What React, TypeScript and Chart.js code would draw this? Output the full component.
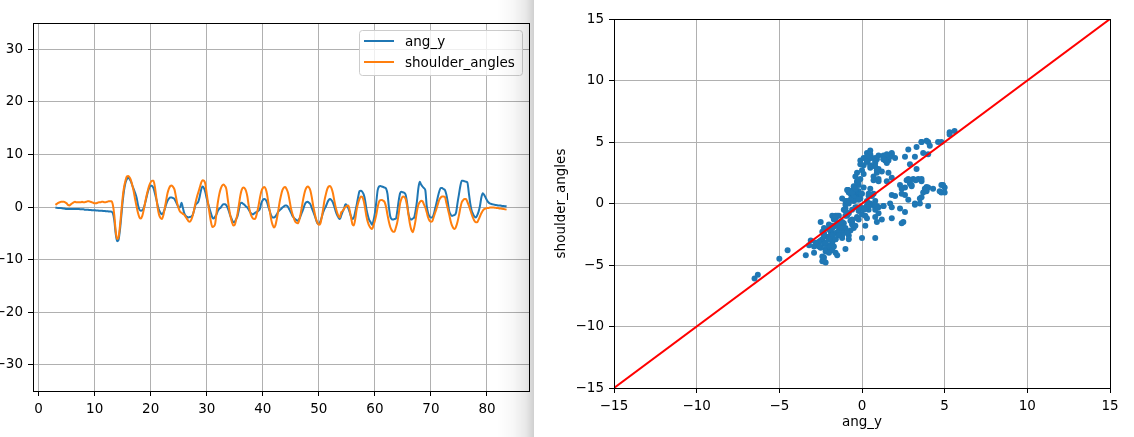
import React, { useEffect, useRef } from "react";
import { Chart, registerables } from "chart.js";

Chart.register(...registerables);

// ---- data (sampled every 0.25 s starting at t = 3 s) ----
const SAMPLE_START = 3;
const SAMPLE_STEP = 0.25;

const ANG_Y = [
  -0.1, -0.15, -0.2, -0.2,
  -0.2, -0.25, -0.3, -0.35,
  -0.4, -0.4, -0.4, -0.4,
  -0.4, -0.4, -0.4, -0.4,
  -0.4, -0.4, -0.45, -0.45,
  -0.45, -0.5, -0.5, -0.5,
  -0.55, -0.55, -0.6, -0.6,
  -0.6, -0.65, -0.65, -0.7,
  -0.7, -0.7, -0.75, -0.75,
  -0.8, -0.8, -0.85, -0.85,
  -0.9, -1.2, -2.5, -5.0,
  -6.5, -6.3, -4.5, -1.8,
  1.0, 3.2, 4.6, 5.3,
  5.6, 5.3, 4.8, 4.0,
  3.3, 2.6, 1.7, 0.3,
  -0.5, -0.7, -0.6, -0.2,
  0.7, 1.8, 2.9, 3.7,
  4.1, 4.0, 3.6, 2.6,
  1.5, 0.3, -0.6, -1.1,
  -1.4, -1.1, -0.4, 0.5,
  1.2, 1.6, 1.8, 1.8,
  1.7, 1.5, 1.0, 0.4,
  -0.1, 0.0, 0.8, -0.2,
  -1.2, -1.7, -1.9, -2.0,
  -1.9, -1.8, -1.5, -0.6,
  0.4, 0.7, 1.0, 2.0,
  3.3, 3.9, 3.6, 2.8,
  1.6, 0.6, -0.3, -1.2,
  -2.0, -2.2, -1.8, -1.4,
  -0.7, -0.3, -0.1, 0.3,
  0.5, 0.5, 0.3, -0.2,
  -1.0, -1.8, -2.4, -2.9,
  -2.8, -2.3, -1.7, -0.5,
  0.7, 0.8, 0.6, 0.4,
  0.1, -0.1, -0.5, -1.0,
  -1.3, -1.4, -1.2, -1.0,
  -0.9, -0.7, -0.3, 0.8,
  1.3, 1.5, 1.4, 0.9,
  0.0, -0.8, -1.6, -2.0,
  -2.0, -1.8, -1.4, -0.9,
  -0.6, -0.4, -0.1, 0.1,
  0.3, 0.3, 0.0, -0.5,
  -1.0, -1.6, -2.0, -2.3,
  -2.5, -2.6, -2.3, -1.7,
  -1.0, -0.3, 0.5, 0.9,
  1.0, 0.8, 0.5, -0.2,
  -0.9, -1.6, -2.4, -3.1,
  -3.2, -2.8, -2.0, -1.1,
  -0.4, 0.1, 0.8, 1.3,
  1.5, 1.3, 0.9, 0.1,
  -0.8, -1.5, -2.0, -2.3,
  -1.6, -0.9, -0.3, 0.5,
  0.3, -0.2, -1.0, -1.8,
  -2.3, -2.0, -0.9, 0.4,
  1.8, 3.0, 3.1, 2.9,
  2.4, 1.3, -0.4, -1.6,
  -2.5, -2.9, -3.4, -2.6,
  -1.2, 0.9, 3.2, 3.9,
  4.0, 3.9, 3.8, 3.7,
  3.5, 2.5, 0.0, -1.8,
  -2.3, -2.4, -2.3, -2.2,
  -0.8, 1.2, 2.6, 2.9,
  2.8, 2.7, 2.3, 0.8,
  -1.3, -2.2, -2.4, -2.2,
  -2.0, -0.8, 1.0, 3.5,
  4.8, 4.3, 3.9, 3.6,
  3.2, 0.2, -1.2, -1.8,
  -2.0, -2.0, -1.4, -0.3,
  0.8, 2.0, 3.0, 3.6,
  3.6, 3.4, 3.25, 2.4,
  1.0, -0.7, -1.4, -1.7,
  -1.6, -1.5, -1.0, 0.8,
  2.4, 4.0, 5.0, 5.0,
  4.9, 4.8, 4.7, 2.8,
  0.8, -0.6, -1.3, -1.8,
  -2.0, -1.6, -0.9, 0.2,
  1.8, 2.6, 2.3, 1.8,
  1.3, 0.9, 0.7, 0.6,
  0.5, 0.45, 0.4, 0.35,
  0.3, 0.3, 0.25, 0.2,
  0.2, 0.15, 0.1,
];

const SHOULDER_ANGLES = [
  0.4, 0.6, 0.8, 0.9,
  1.0, 1.0, 1.0, 0.9,
  0.7, 0.4, 0.3, 0.5,
  0.7, 0.9, 1.0, 0.9,
  0.9, 0.9, 0.9, 1.0,
  0.9, 0.9, 1.0, 1.1,
  1.1, 1.0, 0.9, 0.8,
  0.7, 0.7, 0.8, 0.9,
  0.9, 1.0, 1.0, 0.9,
  0.9, 1.0, 1.1, 1.1,
  1.1, 0.4, -1.5, -4.5,
  -6.1, -5.8, -3.8, -1.0,
  1.8, 3.8, 5.0, 5.8,
  5.9, 5.6, 5.0, 4.0,
  2.8, 1.3, 0.0, -1.2,
  -2.0, -2.2, -1.7, -0.6,
  0.8, 2.1, 3.2, 4.1,
  4.7, 5.0, 5.0, 3.8,
  1.8, -0.2, -1.5, -2.1,
  -2.3, -1.6, -0.3, 1.2,
  2.6, 3.5, 4.0, 4.1,
  3.8, 3.3, 2.0, 0.6,
  -0.3, -0.9, -1.1, -1.3,
  -1.5, -1.9, -2.3, -2.7,
  -2.8, -2.4, -1.6, -0.5,
  0.8, 1.9, 2.8, 3.7,
  4.6, 5.1, 5.0, 4.4,
  2.5, 0.6, -1.2, -2.8,
  -3.8, -3.7, -3.2, -1.0,
  1.0, 2.5, 3.5, 4.1,
  4.3, 4.0, 3.4, 1.5,
  -0.4, -1.8, -2.9, -3.5,
  -3.4, -2.4, -1.2, 0.5,
  2.2, 3.3, 3.7, 3.6,
  3.1, 2.0, 0.2, -1.0,
  -1.8, -2.2, -2.3, -2.0,
  -1.0, 0.3, 1.8, 3.0,
  3.6, 3.8, 3.5, 2.5,
  0.8, -0.8, -2.4, -3.4,
  -3.9, -3.5, -2.3, -0.8,
  0.9, 2.2, 3.2, 3.7,
  3.8, 3.4, 2.7, 1.4,
  -0.1, -1.2, -2.0, -2.7,
  -3.0, -3.1, -2.5, -1.3,
  0.2, 1.7, 2.9, 3.6,
  3.9, 3.7, 3.1, 1.8,
  0.2, -1.1, -2.3, -3.0,
  -3.4, -3.2, -2.1, -0.5,
  1.2, 2.4, 3.4, 3.9,
  4.0, 3.6, 2.7, 1.3,
  0.0, -1.0, -1.7, -2.0,
  -1.0, -0.8, -0.3, 0.0,
  0.2, 0.3, -0.6, -2.0,
  -3.3, -3.5, -2.3, -0.5,
  0.7, 1.5, 2.0, 1.9,
  1.2, -0.2, -1.8, -2.9,
  -3.6, -4.0, -4.2, -3.5,
  -2.6, -1.5, 0.0, 1.0,
  1.3, 1.35, 1.2, 0.9,
  0.0, -1.5, -2.8, -3.8,
  -4.4, -4.7, -4.7, -3.9,
  -2.9, -1.3, 0.7, 1.6,
  2.0, 1.9, 1.5, 0.2,
  -1.5, -3.2, -4.3, -4.8,
  -4.0, -2.6, -0.8, 0.4,
  0.9, 1.2, 1.1, 0.5,
  -0.1, -1.0, -2.0, -2.6,
  -2.8, -2.7, -1.9, -1.1,
  -0.3, 0.6, 1.4, 1.8,
  2.0, 2.0, 1.9, 0.8,
  -0.3, -1.4, -2.6, -3.5,
  -4.0, -4.2, -3.7, -2.8,
  -1.6, -0.2, 0.9, 1.3,
  1.5, 1.5, 1.0, 0.3,
  -0.5, -1.3, -2.0, -2.6,
  -2.9, -2.9, -2.4, -1.8,
  -1.2, -0.7, -0.4, -0.3,
  -0.2, -0.2, -0.1, -0.1,
  -0.1, -0.1, -0.15, -0.2,
  -0.2, -0.3, -0.3, -0.35,
  -0.4, -0.45, -0.5,
];

const TIME = ANG_Y.map((_, i) => SAMPLE_START + i * SAMPLE_STEP);

const SERIES_NAMES = ["ang_y", "shoulder_angles"];
const SERIES_COLORS = ["#1f77b4", "#ff7f0e"];

const LINE_X_TICKS = [0, 10, 20, 30, 40, 50, 60, 70, 80];
const LINE_Y_TICKS = [-30, -20, -10, 0, 10, 20, 30];
const SCATTER_TICKS = [-15, -10, -5, 0, 5, 10, 15];
const IDENTITY_LINE = [-15, 15];

// ---- styling ----
const FONT = { family: "'DejaVu Sans', sans-serif", size: 13.5 };
const GRID_COLOR = "#b0b0b0";

const fmt = (v: number) => String(v).replace("-", "\u2212");

function makeAxis(
  min: number,
  max: number,
  ticks: number[],
  horizontal: boolean,
  fitSize: number,
  title?: { text: string; padding: any }
): any {
  return {
    type: "linear",
    min,
    max,
    afterBuildTicks: (a: any) => {
      a.ticks = ticks.map((v) => ({ value: v }));
    },
    afterFit: (a: any) => {
      if (horizontal) a.height = fitSize;
      else a.width = fitSize;
    },
    grid: {
      color: GRID_COLOR,
      lineWidth: 1,
      drawTicks: true,
      tickLength: 5,
      tickColor: "#000",
      tickWidth: 1,
    },
    border: { display: false },
    ticks: {
      color: "#000",
      font: FONT,
      padding: 5,
      maxRotation: 0,
      minRotation: 0,
      autoSkip: false,
      callback: (v: any) => fmt(Number(v)),
    },
    title: title
      ? { display: true, text: title.text, color: "#000", font: FONT, padding: title.padding }
      : { display: false },
  };
}

const framePlugin = {
  id: "frame",
  afterDatasetsDraw(chart: any) {
    const { ctx, chartArea: a } = chart;
    const l = Math.round(a.left) + 0.5;
    const r = Math.round(a.right) + 0.5;
    const t = Math.round(a.top) + 0.5;
    const b = Math.round(a.bottom) + 0.5;
    ctx.save();
    ctx.strokeStyle = "#000";
    ctx.lineWidth = 1;
    ctx.strokeRect(l, t, r - l, b - t);
    ctx.restore();
  },
};

const insetLegendPlugin = {
  id: "insetLegend",
  afterDraw(chart: any) {
    const { ctx, chartArea: a } = chart;
    const ds = chart.data.datasets;
    ctx.save();
    ctx.font = `${FONT.size}px ${FONT.family}`;
    const textW = Math.max(...ds.map((d: any) => ctx.measureText(d.label).width));
    const padL = 5;
    const handle = 30;
    const gap = 11;
    const padR = 7;
    const w = padL + handle + gap + textW + padR;
    const h = 45;
    const right = Math.round(a.right) - 7;
    const top = Math.round(a.top) + 7;
    const left = Math.round(right - w);
    ctx.beginPath();
    (ctx as any).roundRect(left + 0.5, top + 0.5, Math.round(w), h, 3);
    ctx.fillStyle = "rgba(255,255,255,0.8)";
    ctx.fill();
    ctx.strokeStyle = "#cccccc";
    ctx.lineWidth = 1;
    ctx.stroke();
    ds.forEach((d: any, i: number) => {
      const y = top + 11 + i * 21;
      ctx.strokeStyle = d.borderColor;
      ctx.lineWidth = 2;
      ctx.beginPath();
      ctx.moveTo(left + padL, y);
      ctx.lineTo(left + padL + handle, y);
      ctx.stroke();
      ctx.fillStyle = "#000";
      ctx.textAlign = "left";
      ctx.textBaseline = "middle";
      ctx.fillText(d.label, left + padL + handle + gap, y + 1);
    });
    ctx.restore();
  },
};

const LEFT_W = 534;
const RIGHT_W = 600;
const H = 437;

export default function App() {
  const leftRef = useRef<HTMLCanvasElement>(null);
  const rightRef = useRef<HTMLCanvasElement>(null);

  useEffect(() => {
    const series = [ANG_Y, SHOULDER_ANGLES];
    const lineChart = new Chart(leftRef.current as HTMLCanvasElement, {
      type: "line",
      data: {
        datasets: series.map((vals, k) => ({
          label: SERIES_NAMES[k],
          data: vals.map((v, i) => ({ x: TIME[i], y: v })),
          borderColor: SERIES_COLORS[k],
          backgroundColor: SERIES_COLORS[k],
          borderWidth: 2,
          pointRadius: 0,
          fill: false,
          cubicInterpolationMode: "monotone" as const,
          order: k === 0 ? 1 : 0,
        })),
      },
      options: {
        animation: false,
        responsive: false,
        maintainAspectRatio: false,
        events: [],
        layout: { padding: { left: 0, right: LEFT_W - 529, top: 23, bottom: 0 } },
        scales: {
          x: makeAxis(-1, 87.5, LINE_X_TICKS, true, H - 391),
          y: makeAxis(-35, 35, LINE_Y_TICKS, false, 33),
        },
        plugins: { legend: { display: false }, tooltip: { enabled: false } },
      } as any,
      plugins: [framePlugin, insetLegendPlugin],
    });

    const scatterChart = new Chart(rightRef.current as HTMLCanvasElement, {
      type: "scatter",
      data: {
        datasets: [
          {
            type: "line" as const,
            label: "identity",
            data: IDENTITY_LINE.map((v) => ({ x: v, y: v })),
            borderColor: "#ff0000",
            borderWidth: 2,
            pointRadius: 0,
            fill: false,
            order: 0,
          },
          {
            type: "scatter" as const,
            label: "points",
            data: ANG_Y.map((v, i) => ({ x: v, y: SHOULDER_ANGLES[i] })),
            backgroundColor: SERIES_COLORS[0],
            borderWidth: 0,
            pointRadius: 3,
            order: 1,
          },
        ],
      } as any,
      options: {
        animation: false,
        responsive: false,
        maintainAspectRatio: false,
        events: [],
        layout: { padding: { left: 0, right: RIGHT_W - (1110 - LEFT_W), top: 19, bottom: 0 } },
        scales: {
          x: makeAxis(-15, 15, SCATTER_TICKS, true, H - 388, {
            text: SERIES_NAMES[0],
            padding: { top: 0, bottom: 6 },
          }),
          y: makeAxis(-15, 15, SCATTER_TICKS, false, 614 - LEFT_W, {
            text: SERIES_NAMES[1],
            padding: { top: 19.5, bottom: 0 },
          }),
        },
        plugins: { legend: { display: false }, tooltip: { enabled: false } },
      } as any,
      plugins: [framePlugin],
    });

    return () => {
      lineChart.destroy();
      scatterChart.destroy();
    };
  }, []);

  return (
    <div
      style={{
        position: "fixed",
        left: 0,
        top: 0,
        width: LEFT_W + RIGHT_W,
        height: H,
        background: "#fff",
        overflow: "hidden",
      }}
    >
      <canvas
        ref={leftRef}
        width={LEFT_W}
        height={H}
        style={{ position: "absolute", left: 0, top: 0, width: LEFT_W, height: H, display: "block" }}
      />
      <canvas
        ref={rightRef}
        width={RIGHT_W}
        height={H}
        style={{ position: "absolute", left: LEFT_W, top: 0, width: RIGHT_W, height: H, display: "block" }}
      />
      <div
        style={{
          position: "absolute",
          left: 497,
          top: 0,
          width: LEFT_W - 497,
          height: H,
          pointerEvents: "none",
          background:
            "linear-gradient(to right, rgba(0,0,0,0) 0%, rgba(0,0,0,0.03) 45%, rgba(0,0,0,0.09) 78%, rgba(0,0,0,0.19) 100%)",
        }}
      />
    </div>
  );
}
